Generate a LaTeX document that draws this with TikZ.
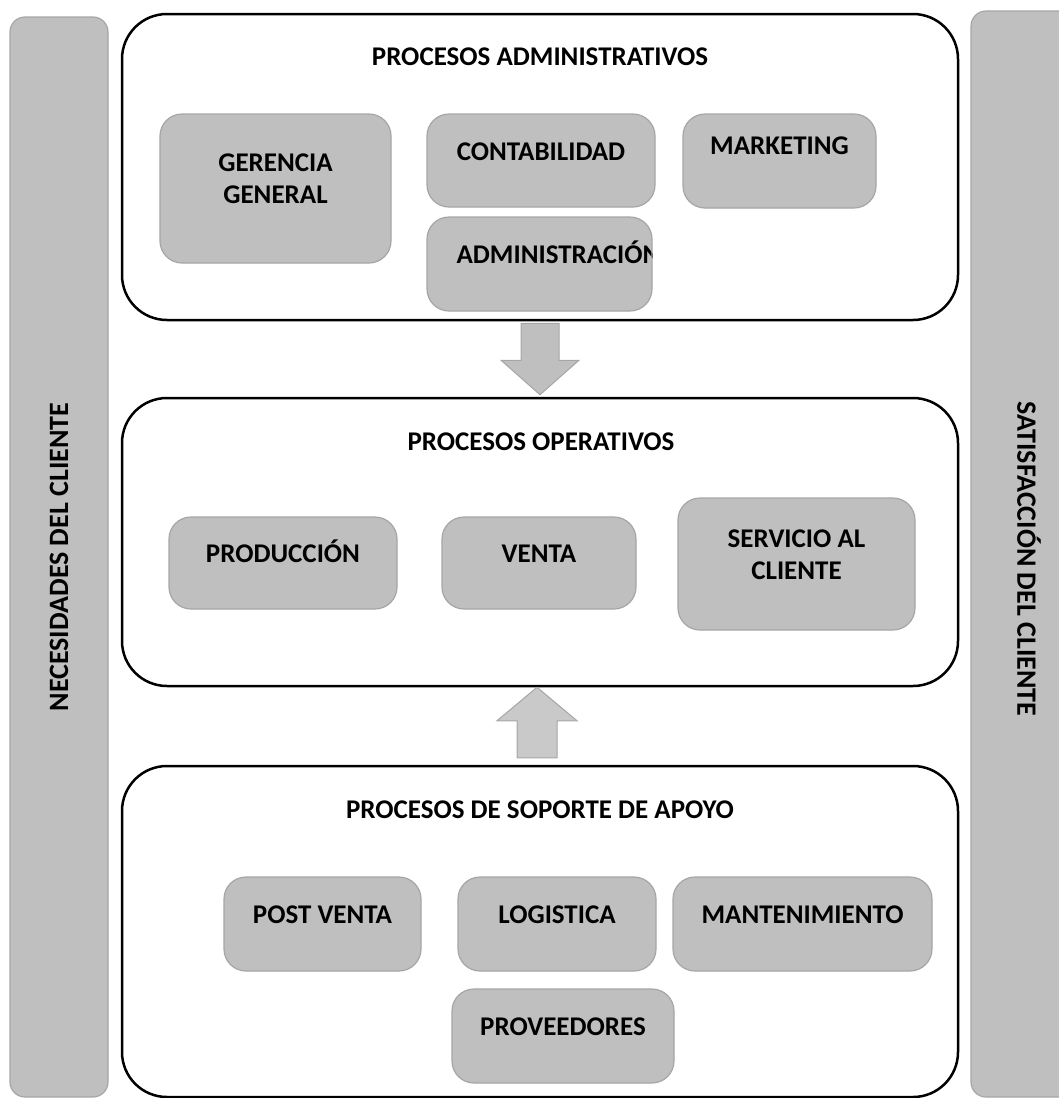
\documentclass[tikz,border=0pt]{standalone}
\usepackage{fontspec}
\setmainfont{Carlito}
\usetikzlibrary{calc}
\definecolor{boxgray}{RGB}{191,191,191}
\definecolor{boxedge}{RGB}{166,166,166}

\begin{document}
\begin{tikzpicture}[x=1pt, y=-1pt,
    every node/.style={font=\fontsize{27}{32}\selectfont\bfseries, align=center},
    area/.style={draw=black, line width=2.5pt, rounded corners=45pt, fill=white},
    proc/.style={draw=boxedge, line width=1.2pt, fill=boxgray, rounded corners=22pt,
        text height=17pt, text depth=18pt},
    twolines/.style={text height=32pt, text depth=2pt},
    side/.style={draw=boxedge, line width=1.2pt, fill=boxgray, rounded corners=15pt,
        font=\fontsize{28}{32}\selectfont\bfseries},
    blockarrow/.style={draw=boxedge, fill=boxgray, line width=1pt}]
    \useasboundingbox (0, 0) rectangle (1059, 1098);

    % Side bars
    \node[side, rotate=90, minimum width=1080pt, minimum height=98pt] at (59, 557) (need) {NECESIDADES DEL CLIENTE};
    \node[side, rotate=-90, minimum width=1086pt, minimum height=116pt] at (1029, 554) (satis)
        {\raisebox{0pt}{\hspace*{10pt}SATISFACCIÓN DEL CLIENTE}};

    % Areas
    \node[area, minimum width=836pt, minimum height=306pt] at (540, 167) (adm) {};
    \node[area, minimum width=836pt, minimum height=288pt] at (540, 542) (ope) {};
    \node[area, minimum width=836pt, minimum height=331pt] at (540, 931.5) (sop) {};

    \node at (540, 57) (admtitle) {PROCESOS ADMINISTRATIVOS};
    \node at (541, 442) (opetitle) {PROCESOS OPERATIVOS};
    \node at (540, 810) (soptitle) {PROCESOS DE SOPORTE DE APOYO};

    % Administrative processes
    \node[proc, twolines, minimum width=231pt, minimum height=149pt] at (275.5, 188.5) (ger) {GERENCIA\\GENERAL};
    \node[proc, minimum width=228pt, minimum height=93pt] at (541, 160.5) (cont) {CONTABILIDAD};
    \node[proc, minimum width=193pt, minimum height=94pt, text depth=30pt] at (779.5, 161) (mark) {MARKETING};
    \node[proc, minimum width=225pt, minimum height=94pt,
        path picture={\node[text height=17pt, text depth=18pt] at ([xshift=19pt]path picture bounding box.center) (admintext) {ADMINISTRACIÓN};}]
        at (539.5, 264) (admin) {};

    % Operative processes
    \node[proc, minimum width=228pt, minimum height=92pt] at (283, 563) (prod) {PRODUCCIÓN};
    \node[proc, minimum width=194pt, minimum height=92pt] at (539, 563) (venta) {VENTA};
    \node[proc, twolines, minimum width=237pt, minimum height=132pt] at (796.5, 564) (serv) {SERVICIO AL\\CLIENTE};

    % Support processes
    \node[proc, minimum width=197pt, minimum height=94pt] at (322.5, 924) (post) {POST VENTA};
    \node[proc, minimum width=198pt, minimum height=94pt] at (557, 924) (logi) {LOGISTICA};
    \node[proc, minimum width=259pt, minimum height=94pt] at (802.5, 924) (mant) {MANTENIMIENTO};
    \node[proc, minimum width=222pt, minimum height=94pt] at (563, 1036) (prov) {PROVEEDORES};

    % Arrows
    \draw[blockarrow] ($(adm.south)+(-19, 2)$) -- ($(adm.south)+(-19, 39)$)
        -- ($(adm.south)+(-39, 39)$) -- ($(ope.north)+(0, -2)$)
        -- ($(adm.south)+(39, 39)$) -- ($(adm.south)+(19, 39)$)
        -- ($(adm.south)+(19, 2)$) -- cycle;
    \draw[blockarrow, fill=boxgray!85] ($(sop.north)+(-23, -7)$) -- ($(sop.north)+(-23, -44)$)
        -- ($(sop.north)+(-43, -44)$) -- ($(ope.south)+(-3, 0)$)
        -- ($(sop.north)+(37, -44)$) -- ($(sop.north)+(17, -44)$)
        -- ($(sop.north)+(17, -7)$) -- cycle;
\end{tikzpicture}
\end{document}
